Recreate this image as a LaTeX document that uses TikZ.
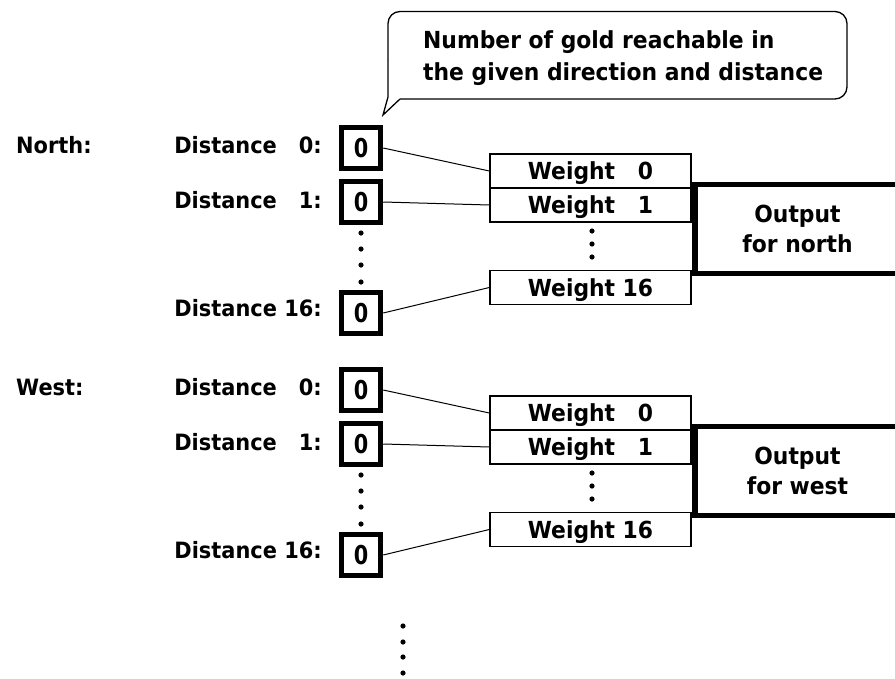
\documentclass[tikz,border=0pt]{standalone}
\usepackage{fontspec}
\setmainfont{DejaVu Sans}[FakeStretch=0.93]
\newfontfamily\digitfont{DejaVu Sans}[FakeStretch=0.8]
\begin{document}
\begin{tikzpicture}[x=1pt,y=-1pt,
  txt/.style={font=\fontsize{23.5}{27}\selectfont\bfseries, inner sep=0pt},
  lab/.style={font=\fontsize{22.5}{26}\selectfont\bfseries, inner sep=0pt},
  valbox/.style={draw, line width=5.5pt, minimum width=39pt, minimum height=41pt, inner sep=0pt,
    font=\digitfont\fontsize{26}{28}\selectfont\bfseries, text height=19pt, text depth=0pt},
  wbox/.style={draw, line width=1.3pt, minimum width=201pt, minimum height=34pt, inner sep=0pt,
    font=\fontsize{23.5}{27}\selectfont\bfseries, text height=17pt, text depth=0pt},
  outbox/.style={draw, line width=5.5pt, minimum width=205pt, minimum height=89pt, inner sep=0pt,
    align=center, font=\fontsize{23.5}{30}\selectfont\bfseries},
  link/.style={line width=1pt},
  callout/.style={line width=1.3pt}
]
\useasboundingbox (0,0) rectangle (895,678);
\clip (0,0) rectangle (895,678);

% callout
\draw[callout, rounded corners=12pt] (388,60) -- (388,11.5) -- (847,11.5) -- (847,99) -- (400,99);
\draw[callout, line join=miter] (388,60) -- (388,97) -- (383,115) -- (400,99);
\node[txt, anchor=base west] (c1) at (423,48) {Number of gold reachable in};
\node[txt, anchor=base west] (c2) at (423,80) {the given direction and distance};

\foreach \off/\nm/\lbl in {0/north/North:, 242/west/West:} {
  \node[lab, anchor=base west] (h\nm) at (16,{153+\off}) {\lbl};
  \node[lab, anchor=base east] (l0\nm) at (322,{153+\off}) {Distance\hspace{22pt}0:};
  \node[lab, anchor=base east] (l1\nm) at (322,{208+\off}) {Distance\hspace{22pt}1:};
  \node[lab, anchor=base east] (l16\nm) at (322,{316+\off}) {Distance 16:};

  \node[valbox] (v0\nm) at (361,{148+\off}) {0};
  \node[valbox] (v1\nm) at (361,{202+\off}) {0};
  \node[valbox] (v16\nm) at (361,{313+\off}) {0};

  \node[wbox] (w0\nm) at (590.5,{171+\off}) {Weight \phantom{1}0};
  \node[wbox] (w1\nm) at (590.5,{205+\off}) {Weight \phantom{1}1};
  \node[wbox] (w16\nm) at (590.5,{287.5+\off}) {Weight 16};

  \node[outbox] (o\nm) at (797.5,{229+\off}) {Output\\for \nm};

  \draw[link] (v0\nm.east) -- (w0\nm.west);
  \draw[link] (v1\nm.east) -- (w1\nm.west);
  \draw[link] (v16\nm.east) -- (w16\nm.west);

  \foreach \y in {233,249,265,282} \fill (361,{\y+\off}) circle (2.6pt);
  \foreach \y in {231,244,257} \fill (592,{\y+\off}) circle (2.6pt);
}

\foreach \y in {626,642,657,673} \fill (403,\y) circle (2.6pt);
\end{tikzpicture}
\end{document}
